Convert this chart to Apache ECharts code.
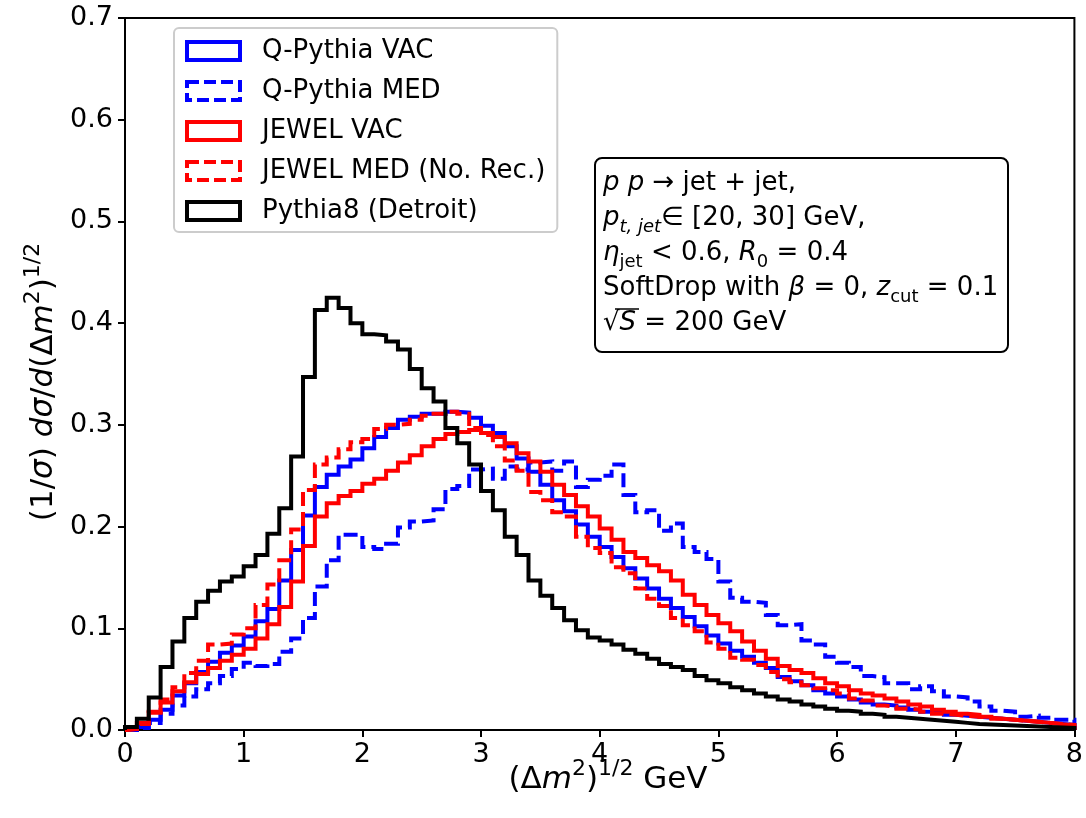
<!DOCTYPE html>
<html>
<head>
<meta charset="utf-8">
<script src="https://cdn.jsdelivr.net/npm/echarts@6/dist/echarts.min.js"></script>
<style>
html,body{margin:0;padding:0;background:#fff;}
#chart{width:1086px;height:818px;}
</style>
</head>
<body>
<div id="chart"></div>
<script>
// Bin edges (0.1 GeV wide bins from 0 to 8)
const binEdges = [0.0,0.1,0.2,0.3,0.4,0.5,0.6,0.7,0.8,0.9,1.0,1.1,1.2,1.3,1.4,1.5,1.6,1.7,1.8,1.9,
  2.0,2.1,2.2,2.3,2.4,2.5,2.6,2.7,2.8,2.9,3.0,3.1,3.2,3.3,3.4,3.5,3.6,3.7,3.8,3.9,
  4.0,4.1,4.2,4.3,4.4,4.5,4.6,4.7,4.8,4.9,5.0,5.1,5.2,5.3,5.4,5.5,5.6,5.7,5.8,5.9,
  6.0,6.1,6.2,6.3,6.4,6.5,6.6,6.7,6.8,6.9,7.0,7.1,7.2,7.3,7.4,7.5,7.6,7.7,7.8,7.9,8.0];

const xTicks = [0,1,2,3,4,5,6,7,8];
const yTicks = [0.0,0.1,0.2,0.3,0.4,0.5,0.6,0.7];

const seriesNames = ['Q-Pythia VAC','Q-Pythia MED','JEWEL VAC','JEWEL MED (No. Rec.)','Pythia8 (Detroit)'];

const qPythiaVac = [
  0.000,0.003,0.010,0.020,0.034,0.046,0.057,0.067,0.076,0.083,
  0.092,0.107,0.119,0.147,0.177,0.211,0.239,0.251,0.259,0.266,
  0.277,0.288,0.297,0.305,0.308,0.311,0.311,0.313,0.312,0.307,
  0.299,0.292,0.279,0.267,0.254,0.241,0.226,0.215,0.202,0.190,
  0.180,0.170,0.159,0.149,0.139,0.129,0.120,0.111,0.102,0.093,
  0.085,0.078,0.072,0.066,0.061,0.052,0.048,0.044,0.039,0.036,
  0.033,0.030,0.027,0.025,0.024,0.022,0.020,0.018,0.017,0.015,
  0.014,0.013,0.012,0.011,0.010,0.009,0.008,0.007,0.006,0.005];

const qPythiaMed = [
  0.000,0.002,0.007,0.016,0.024,0.033,0.040,0.046,0.053,0.060,
  0.066,0.063,0.065,0.077,0.090,0.110,0.141,0.167,0.192,0.192,
  0.180,0.178,0.183,0.199,0.205,0.206,0.217,0.237,0.240,0.256,
  0.257,0.247,0.259,0.256,0.263,0.264,0.255,0.264,0.239,0.246,
  0.250,0.261,0.231,0.214,0.216,0.196,0.203,0.180,0.175,0.168,
  0.146,0.130,0.126,0.125,0.113,0.103,0.104,0.088,0.084,0.072,
  0.066,0.062,0.053,0.052,0.046,0.046,0.040,0.043,0.038,0.033,
  0.032,0.028,0.023,0.019,0.018,0.013,0.014,0.012,0.010,0.010];

const jewelVac = [
  0.001,0.007,0.017,0.027,0.038,0.047,0.055,0.061,0.068,0.074,
  0.080,0.090,0.104,0.121,0.146,0.181,0.210,0.223,0.230,0.235,
  0.242,0.247,0.255,0.263,0.270,0.279,0.286,0.291,0.293,0.295,
  0.292,0.288,0.282,0.272,0.264,0.254,0.241,0.231,0.220,0.210,
  0.198,0.187,0.175,0.169,0.162,0.156,0.147,0.133,0.123,0.113,
  0.105,0.097,0.087,0.078,0.070,0.063,0.059,0.056,0.051,0.046,
  0.043,0.039,0.036,0.034,0.031,0.028,0.025,0.023,0.020,0.018,
  0.016,0.015,0.013,0.011,0.010,0.009,0.008,0.007,0.0056,0.0046];

const jewelMed = [
  0.001,0.006,0.018,0.030,0.042,0.056,0.068,0.084,0.085,0.094,
  0.100,0.123,0.143,0.167,0.197,0.236,0.261,0.268,0.276,0.283,
  0.286,0.296,0.300,0.301,0.305,0.309,0.311,0.313,0.311,0.297,
  0.290,0.279,0.265,0.255,0.234,0.226,0.214,0.210,0.190,0.179,
  0.174,0.160,0.154,0.139,0.129,0.122,0.110,0.103,0.097,0.086,
  0.080,0.071,0.069,0.064,0.057,0.050,0.047,0.044,0.041,0.039,
  0.036,0.031,0.029,0.024,0.023,0.021,0.020,0.018,0.016,0.015,
  0.014,0.013,0.012,0.011,0.010,0.009,0.008,0.007,0.006,0.005];

const pythia8 = [
  0.003,0.011,0.032,0.062,0.087,0.110,0.126,0.137,0.146,0.151,
  0.161,0.172,0.193,0.218,0.269,0.347,0.413,0.425,0.415,0.400,
  0.389,0.388,0.382,0.374,0.355,0.336,0.323,0.297,0.282,0.261,
  0.235,0.216,0.190,0.172,0.147,0.132,0.120,0.108,0.098,0.091,
  0.088,0.084,0.079,0.075,0.070,0.065,0.062,0.059,0.053,0.049,
  0.046,0.042,0.039,0.036,0.033,0.030,0.028,0.025,0.023,0.021,
  0.019,0.018,0.016,0.015,0.013,0.012,0.011,0.010,0.009,0.008,
  0.007,0.006,0.0055,0.005,0.0045,0.004,0.0035,0.003,0.0025,0.002];

const FONT = 'DejaVu Sans';

function stepData(vals) {
  const d = [[binEdges[0], 0]];
  for (let i = 0; i < vals.length; i++) d.push([binEdges[i], vals[i]]);
  const n = vals.length;
  d.push([binEdges[n], vals[n - 1]]);
  d.push([binEdges[n], 0]);
  return d;
}

const DASH = [14, 6];
const styles = [
  {color: '#0000ff', dash: 'solid'},
  {color: '#0000ff', dash: DASH},
  {color: '#ff0000', dash: 'solid'},
  {color: '#ff0000', dash: DASH},
  {color: '#000000', dash: 'solid'}
];
const allVals = [qPythiaVac, qPythiaMed, jewelVac, jewelMed, pythia8];

const series = allVals.map((vals, i) => ({
  name: seriesNames[i],
  type: 'line',
  step: 'end',
  data: stepData(vals),
  showSymbol: false,
  symbol: 'none',
  clip: true,
  color: styles[i].color,
  lineStyle: {color: styles[i].color, width: 4, type: styles[i].dash, join: 'miter', cap: 'butt'},
  itemStyle: {color: styles[i].color},
  emphasis: {disabled: true},
  z: 2 + i
}));

const chart = echarts.init(document.getElementById('chart'), null, {renderer: 'canvas'});

const sub = {fontSize: 18, fontFamily: FONT, color: '#000', verticalAlign: 'bottom', lineHeight: 18};
const isub = {fontSize: 18, fontFamily: FONT, fontStyle: 'italic', color: '#000', verticalAlign: 'bottom', lineHeight: 18};
const it = {fontSize: 26, fontFamily: FONT, fontStyle: 'italic', color: '#000', lineHeight: 36};
const nrm = {fontSize: 26, fontFamily: FONT, color: '#000', lineHeight: 36};

const tIt = {fontSize: 31, fontFamily: FONT, fontStyle: 'italic', color: '#000', lineHeight: 44};
const tSup = {fontSize: 22, fontFamily: FONT, color: '#000', verticalAlign: 'top', lineHeight: 22};

function boxLine(y, text) {
  return {
    type: 'text', left: 603, top: y, z: 100,
    style: {
      text: text, fill: '#000', font: '26px "DejaVu Sans"',
      rich: {n: nrm, i: it, sub: sub, isub: isub}
    }
  };
}

const option = {
  animation: false,
  backgroundColor: '#fff',
  grid: {left: 125, right: 8, top: 18, bottom: 88, show: true, borderColor: '#000', borderWidth: 2, backgroundColor: 'transparent'},
  xAxis: {
    type: 'value', min: 0, max: 8, interval: 1,
    axisLine: {show: true, onZero: false, lineStyle: {color: '#000', width: 2}},
    axisTick: {show: true, inside: false, length: 7, lineStyle: {color: '#000', width: 2}},
    axisLabel: {show: true, color: '#000', fontSize: 27, fontFamily: FONT, margin: 11,
      formatter: v => xTicks.indexOf(v) >= 0 ? String(v) : ''},
    splitLine: {show: false}
  },
  yAxis: {
    type: 'value', min: 0, max: 0.7, interval: 0.1,
    axisLine: {show: true, onZero: false, lineStyle: {color: '#000', width: 2}},
    axisTick: {show: true, inside: false, length: 7, lineStyle: {color: '#000', width: 2}},
    axisLabel: {show: true, color: '#000', fontSize: 27, fontFamily: FONT, margin: 12,
      formatter: v => { const t = yTicks.find(k => Math.abs(k - v) < 1e-9); return t === undefined ? '' : t.toFixed(1); }},
    splitLine: {show: false}
  },
  legend: {
    show: true,
    orient: 'vertical',
    left: 174, top: 28,
    padding: [8, 12, 6, 11],
    itemWidth: 53, itemHeight: 18, itemGap: 10,
    backgroundColor: 'rgba(255,255,255,0.8)',
    borderColor: '#cccccc', borderWidth: 2, borderRadius: 5,
    selectedMode: false,
    textStyle: {color: '#000', fontSize: 26, fontFamily: FONT, lineHeight: 30, padding: [0, 0, 0, 17]},
    data: seriesNames.map((n, i) => ({
      name: n, icon: 'rect',
      itemStyle: {color: 'rgba(0,0,0,0)', borderColor: styles[i].color, borderWidth: 4, borderType: styles[i].dash === 'solid' ? 'solid' : [12, 5]}
    }))
  },
  series: series,
  graphic: [
    {
      type: 'rect', z: 99,
      shape: {x: 595, y: 158, width: 413, height: 194, r: 7},
      style: {fill: '#fff', stroke: '#000', lineWidth: 2}
    },
    boxLine(170, '{i|p p} → jet + jet,'),
    boxLine(205, '{i|p}{isub|t, jet}∈ [20, 30] GeV,'),
    boxLine(240, '{i|η}{sub|jet} < 0.6, {i|R}{sub|0} = 0.4'),
    boxLine(275, 'SoftDrop with {i|β} = 0, {i|z}{sub|cut} = 0.1'),
    boxLine(310, '√{i|S} = 200 GeV'),
    {
      type: 'line', z: 101,
      shape: {x1: 615, y1: 309, x2: 639, y2: 309},
      style: {stroke: '#000', lineWidth: 1.5}
    },
    {
      type: 'text', z: 100,
      x: 608, y: 780,
      style: {
        text: '(Δ{i|m}{sup|2}){sup|1/2} GeV',
        font: '31px "DejaVu Sans"', fill: '#000',
        align: 'center', verticalAlign: 'middle',
        rich: {i: tIt, sup: tSup}
      }
    },
    {
      type: 'text', z: 100,
      x: 44, y: 382, rotation: Math.PI / 2,
      style: {
        text: '(1/{i|σ}) {i|dσ}/{i|d}(Δ{i|m}{sup|2}){sup|1/2}',
        font: '31px "DejaVu Sans"', fill: '#000',
        align: 'center', verticalAlign: 'middle',
        rich: {i: tIt, sup: tSup}
      }
    }
  ]
};

chart.setOption(option);
</script>
</body>
</html>
